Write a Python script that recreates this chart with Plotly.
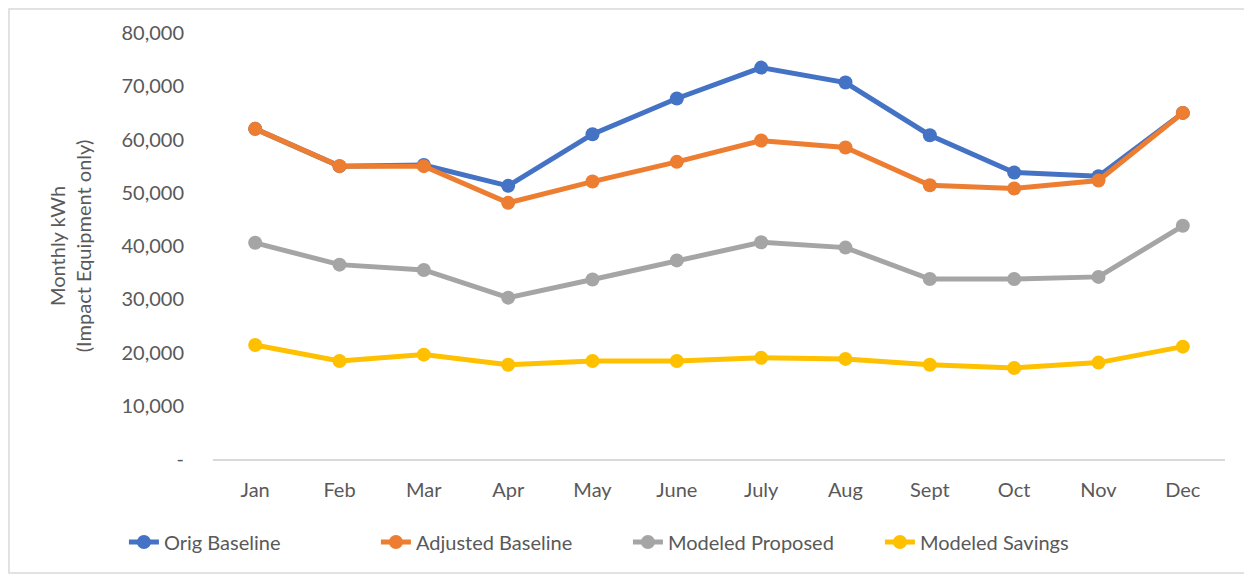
import plotly.graph_objects as go

months = ["Jan", "Feb", "Mar", "Apr", "May", "June", "July", "Aug", "Sept", "Oct", "Nov", "Dec"]

orig_baseline = [62000, 55000, 55200, 51300, 61000, 67700, 73500, 70700, 60800, 53800, 53100, 65000]
adjusted_baseline = [62000, 55000, 55000, 48100, 52100, 55800, 59800, 58500, 51400, 50800, 52300, 65000]
modeled_proposed = [40600, 36500, 35500, 30300, 33700, 37300, 40700, 39700, 33800, 33800, 34200, 43800]
modeled_savings = [21400, 18400, 19600, 17700, 18400, 18400, 19000, 18800, 17700, 17100, 18100, 21100]

y_ticks = [0, 10000, 20000, 30000, 40000, 50000, 60000, 70000, 80000]
y_tick_text = ["-", "10,000", "20,000", "30,000", "40,000", "50,000", "60,000", "70,000", "80,000"]

series = [
    ("Orig Baseline", orig_baseline, "#4472C4"),
    ("Adjusted Baseline", adjusted_baseline, "#ED7D31"),
    ("Modeled Proposed", modeled_proposed, "#A5A5A5"),
    ("Modeled Savings", modeled_savings, "#FFC000"),
]

fig = go.Figure()
for name, vals, color in series:
    fig.add_trace(go.Scatter(
        x=months, y=vals, name=name, mode="lines+markers",
        line=dict(color=color, width=5),
        marker=dict(color=color, size=14),
    ))

font = "Lato, 'Open Sans', sans-serif"
txt = "#595959"

# page body has an 8px margin, so the figure is a bit smaller than the window
fig.update_layout(
    width=1244, height=571,
    margin=dict(l=205, r=27, t=25, b=120),
    paper_bgcolor="white", plot_bgcolor="white",
    font=dict(family=font, size=20, color=txt),
    showlegend=True,
    legend=dict(orientation="h", x=0.41, xanchor="center", y=-0.149, yanchor="top",
                font=dict(size=20, color=txt), traceorder="normal",
                entrywidth=207, entrywidthmode="pixels"),
    xaxis=dict(showgrid=False, showline=True, linecolor="#D9D9D9", linewidth=2,
               range=[-0.5, 11.5], ticks="outside", ticklen=12,
               tickcolor="rgba(0,0,0,0)", tickfont=dict(size=20, color=txt),
               zeroline=False),
    yaxis=dict(range=[0, 80000], tickvals=y_ticks, ticktext=y_tick_text,
               showgrid=False, showline=False, zeroline=False,
               ticks="outside", ticklen=24, tickcolor="rgba(0,0,0,0)",
               tickfont=dict(size=20, color=txt),
               title=dict(text="Monthly kWh<br>(Impact Equipment only)",
                          font=dict(size=20, color=txt), standoff=24)),
    shapes=[dict(type="rect", xref="paper", yref="paper",
                 x0=-0.2016, x1=1.0217, y0=-0.2676, y1=1.0563,
                 line=dict(color="#D9D9D9", width=1.5), fillcolor="rgba(0,0,0,0)")],
)

fig.write_html("out.html")
